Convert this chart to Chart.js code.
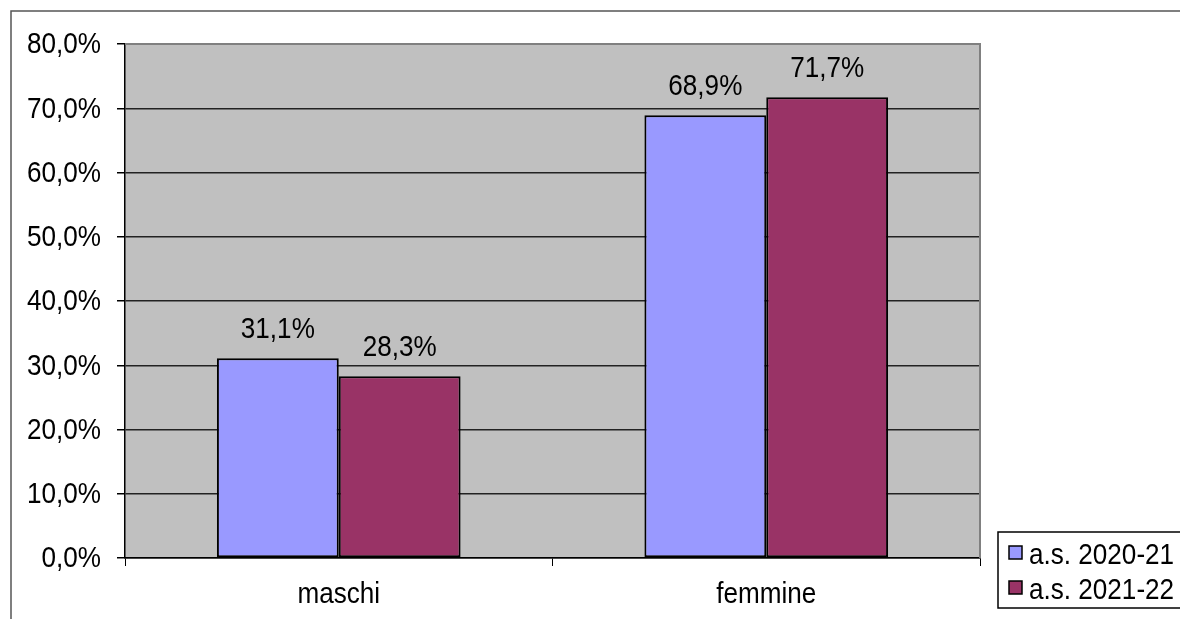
<!DOCTYPE html>
<html>
<head>
<meta charset="utf-8">
<script src="https://cdn.jsdelivr.net/npm/chart.js@4.4.1/dist/chart.umd.min.js"></script>
<style>
  html, body { margin: 0; padding: 0; background: #fff; overflow: hidden; }
  canvas { display: block; }
</style>
</head>
<body>
<canvas id="chart" width="1180" height="619"></canvas>
<script>
// data
const categories = ['maschi', 'femmine']
const seriesLabels = ['a.s. 2020-21', 'a.s. 2021-22']
const values2021 = [31.1, 68.9]
const values2122 = [28.3, 71.7]
const yMin = 0
const yMax = 80
const yStep = 10

// the original text is slightly narrow, so draw it squeezed horizontally
const FONT = '30px "Liberation Sans", Arial, sans-serif'
const SQUEEZE = 0.87

function pct(v) {
  return v.toFixed(1).replace('.', ',') + '%'
}

function squeezedText(ctx, str, x, y, align, baseline) {
  ctx.save()
  ctx.translate(x, y)
  ctx.scale(SQUEEZE, 1)
  ctx.font = FONT
  ctx.fillStyle = '#000'
  ctx.textAlign = align
  ctx.textBaseline = baseline
  ctx.fillText(str, 0, 0)
  ctx.restore()
}

// plot background + outer frame
const backdrop = {
  id: 'backdrop',
  beforeDraw(chart) {
    const { ctx, chartArea: a } = chart
    ctx.save()
    ctx.fillStyle = '#c0c0c0'
    ctx.fillRect(a.left, a.top, a.right - a.left, a.bottom - a.top)
    // frame of the whole picture (clipped on right/bottom)
    ctx.strokeStyle = '#555'
    ctx.lineWidth = 1.5
    ctx.beginPath()
    ctx.moveTo(11, 619)
    ctx.lineTo(11, 11)
    ctx.lineTo(1180, 11)
    ctx.stroke()
    ctx.restore()
  },
  afterDraw(chart) {
    const { ctx, chartArea: a } = chart
    ctx.save()
    ctx.strokeStyle = '#808080'
    ctx.lineWidth = 2
    ctx.beginPath()
    ctx.moveTo(a.left, a.top)
    ctx.lineTo(a.right, a.top)
    ctx.lineTo(a.right, a.bottom)
    ctx.stroke()
    ctx.restore()
  },
}

// axis labels, drawn from the scales' own ticks
const axisLabels = {
  id: 'axisLabels',
  afterDraw(chart) {
    const { ctx } = chart
    const ys = chart.scales.y
    ys.ticks.forEach((t) => {
      squeezedText(ctx, pct(t.value), ys.right - 24, ys.getPixelForValue(t.value) + 1, 'right', 'middle')
    })
    const xs = chart.scales.x
    chart.data.labels.forEach((lab, i) => {
      squeezedText(ctx, lab, xs.getPixelForValue(i), 603, 'center', 'alphabetic')
    })
  },
}

// value labels above bars
const valueLabels = {
  id: 'valueLabels',
  afterDatasetsDraw(chart) {
    const { ctx } = chart
    chart.data.datasets.forEach((ds, i) => {
      chart.getDatasetMeta(i).data.forEach((bar, j) => {
        squeezedText(ctx, pct(ds.data[j]), bar.x, bar.y - 20, 'center', 'alphabetic')
      })
    })
  },
}

// legend box at the bottom right
const boxLegend = {
  id: 'boxLegend',
  afterDraw(chart) {
    const { ctx } = chart
    const x = 998, y = 532, w = 190, h = 76
    ctx.save()
    ctx.fillStyle = '#fff'
    ctx.fillRect(x, y, w, h)
    ctx.strokeStyle = '#000'
    ctx.lineWidth = 1.5
    ctx.strokeRect(x, y, w, h)
    chart.data.datasets.forEach((ds, i) => {
      const cy = y + 21 + i * 35
      ctx.fillStyle = ds.backgroundColor
      ctx.fillRect(1009, cy - 7, 13, 13)
      ctx.strokeStyle = '#000'
      ctx.lineWidth = 1.5
      ctx.strokeRect(1009, cy - 7, 13, 13)
      squeezedText(ctx, ds.label, 1029, cy + 11, 'left', 'alphabetic')
    })
    ctx.restore()
  },
}

new Chart(document.getElementById('chart'), {
  type: 'bar',
  data: {
    labels: categories,
    datasets: [
      {
        label: seriesLabels[0],
        data: values2021,
        backgroundColor: '#9999ff',
        borderColor: '#000',
        borderWidth: 2,
        borderSkipped: false,
      },
      {
        label: seriesLabels[1],
        data: values2122,
        backgroundColor: '#993366',
        borderColor: '#000',
        borderWidth: 2,
        borderSkipped: false,
      },
    ],
  },
  options: {
    responsive: false,
    animation: false,
    devicePixelRatio: 1,
    categoryPercentage: 0.57,
    barPercentage: 1,
    layout: { padding: { top: 44, right: 200, bottom: 0, left: 0 } },
    plugins: {
      legend: { display: false },
      tooltip: { enabled: false },
    },
    scales: {
      x: {
        offset: true,
        grid: { drawOnChartArea: false, drawTicks: true, tickLength: 8, color: '#000' },
        border: { display: true, color: '#000', width: 1.5 },
        ticks: { display: false },
        afterFit(scale) { scale.height = 61 },
      },
      y: {
        min: yMin,
        max: yMax,
        grid: {
          color: (c) => (c.tick && c.tick.value === yMax ? '#808080' : '#222'),
          tickColor: '#000',
          tickLength: 8,
          lineWidth: 1.5,
        },
        border: { display: true, color: '#000', width: 1.5 },
        ticks: { display: false, stepSize: yStep },
        afterFit(scale) { scale.width = 125 },
      },
    },
  },
  plugins: [backdrop, axisLabels, valueLabels, boxLegend],
})
</script>
</body>
</html>
